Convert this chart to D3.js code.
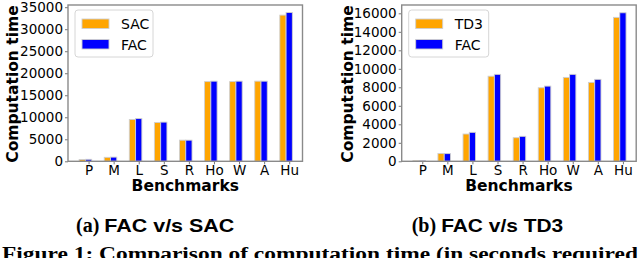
<!DOCTYPE html>
<html>
<head>
<meta charset="utf-8">
<script src="https://cdn.jsdelivr.net/npm/d3@7"></script>
<style>
  body { margin: 0; background: #fff; }
  svg { display: block; }
</style>
</head>
<body>
<svg id="fig" width="640" height="258"></svg>
<script>
// benchmark names and computation times (seconds)
const benchmarks = ["P", "M", "L", "S", "R", "Ho", "W", "A", "Hu"];

const sacTime  = [400, 900, 9500, 8800, 4800, 18100, 18100, 18200, 33200];
const facTimeA = [450, 950, 9700, 8900, 4800, 18200, 18200, 18200, 33800];

const td3Time  = [60, 850, 2950, 9200, 2550, 7950, 9070, 8530, 15560];
const facTimeB = [60, 830, 3130, 9400, 2700, 8130, 9400, 8860, 16060];

const yTicksA = [0, 5000, 10000, 15000, 20000, 25000, 30000, 35000];
const yTicksB = [0, 2000, 4000, 6000, 8000, 10000, 12000, 14000, 16000];

const svg = d3.select("#fig");
const barW = 0.25;

function drawPanel(p) {
  const x = d3.scaleLinear().domain([-0.82, 8.53]).range([p.left, p.left + 234.5]);
  const y = d3.scaleLinear().domain([0, p.yMax]).range([161.3, 5]);
  const g = svg.append("g");

  // bars (orange first, blue next to it; tick sits on the blue bar)
  const series = [
    {vals: p.a, color: "#ffa500", off: -barW},
    {vals: p.b, color: "#0000ff", off: 0}
  ];
  series.forEach(s => {
    g.selectAll(null)
      .data(s.vals)
      .enter().append("rect")
        .attr("x", (d, i) => x(i + s.off - barW / 2))
        .attr("y", d => y(d))
        .attr("width", x(barW) - x(0))
        .attr("height", d => y(0) - y(d))
        .attr("fill", s.color)
        .attr("stroke", "#cfcfcf")
        .attr("stroke-width", 0.9);
  });

  // axes
  const ax = g.append("g")
      .attr("transform", `translate(0,${y(0)})`)
      .call(d3.axisBottom(x).tickValues(d3.range(benchmarks.length))
              .tickFormat(i => benchmarks[i]).tickSize(3).tickPadding(1));
  const ay = g.append("g")
      .attr("transform", `translate(${x.range()[0]},0)`)
      .call(d3.axisLeft(y).tickValues(p.ticks).tickFormat(d3.format("d"))
              .tickSize(3).tickPadding(2));
  [ax, ay].forEach(a => {
    a.select(".domain").remove();
    a.selectAll("line").attr("stroke", "#777");
    a.selectAll("text")
      .attr("fill", "#000")
      .style("font-family", "DejaVu Sans")
      .style("font-size", "13.5px");
  });

  // frame
  g.append("rect")
    .attr("x", x.range()[0]).attr("y", 5)
    .attr("width", x.range()[1] - x.range()[0]).attr("height", 161.3 - 5)
    .attr("fill", "none").attr("stroke", "#8a8a8a").attr("stroke-width", 1.4);

  // axis titles
  g.append("text")
    .attr("transform", `translate(${p.yLabX},84) rotate(-90)`)
    .attr("text-anchor", "middle").attr("dominant-baseline", "central")
    .style("font-family", "DejaVu Sans").style("font-weight", "bold")
    .style("font-size", "15.5px")
    .text("Computation time");
  g.append("text")
    .attr("x", (x.range()[0] + x.range()[1]) / 2).attr("y", 190.5)
    .attr("text-anchor", "middle")
    .style("font-family", "DejaVu Sans").style("font-weight", "bold")
    .style("font-size", "15.5px")
    .text("Benchmarks");

  // legend
  const lx = x.range()[0] + 7;
  const lg = g.append("g");
  lg.append("rect")
    .attr("x", lx).attr("y", 10).attr("width", p.legW).attr("height", 47)
    .attr("rx", 3)
    .attr("fill", "#fff").attr("fill-opacity", 0.8)
    .attr("stroke", "#d6d6d6").attr("stroke-width", 1);
  [p.nameA, "FAC"].forEach((name, k) => {
    lg.append("rect")
      .attr("x", lx + 7).attr("y", 19 + k * 20.5)
      .attr("width", 27).attr("height", 9.5)
      .attr("fill", series[k].color)
      .attr("stroke", "#cfcfcf").attr("stroke-width", 0.9);
    lg.append("text")
      .attr("x", lx + 46).attr("y", 29 + k * 20.5)
      .style("font-family", "DejaVu Sans").style("font-size", "14px")
      .text(name);
  });

  // sub caption
  const cap = svg.append("text")
    .attr("x", p.capX).attr("y", 232)
    .style("font-weight", "bold");
  cap.append("tspan")
    .style("font-family", "Liberation Serif").style("font-size", "20px")
    .text(p.capTag + " ");
  cap.append("tspan")
    .style("font-family", "Liberation Sans").style("font-size", "18.5px")
    .attr("textLength", p.capLen).attr("lengthAdjust", "spacingAndGlyphs")
    .text(p.capText);
}

drawPanel({left: 68, yMax: 35500, ticks: yTicksA, a: sacTime, b: facTimeA,
           nameA: "SAC", legW: 78, yLabX: 13,
           capX: 76, capTag: "(a)", capText: "FAC v/s SAC", capLen: 130});
drawPanel({left: 401.7, yMax: 16900, ticks: yTicksB, a: td3Time, b: facTimeB,
           nameA: "TD3", legW: 80, yLabX: 348,
           capX: 411.7, capTag: "(b)", capText: "FAC v/s TD3", capLen: 122});

svg.append("text")
  .attr("x", 2).attr("y", 259.5)
  .attr("textLength", 636).attr("lengthAdjust", "spacingAndGlyphs")
  .style("font-family", "Liberation Serif").style("font-weight", "bold")
  .style("font-size", "18px")
  .text("Figure 1: Comparison of computation time (in seconds required");
</script>
</body>
</html>
